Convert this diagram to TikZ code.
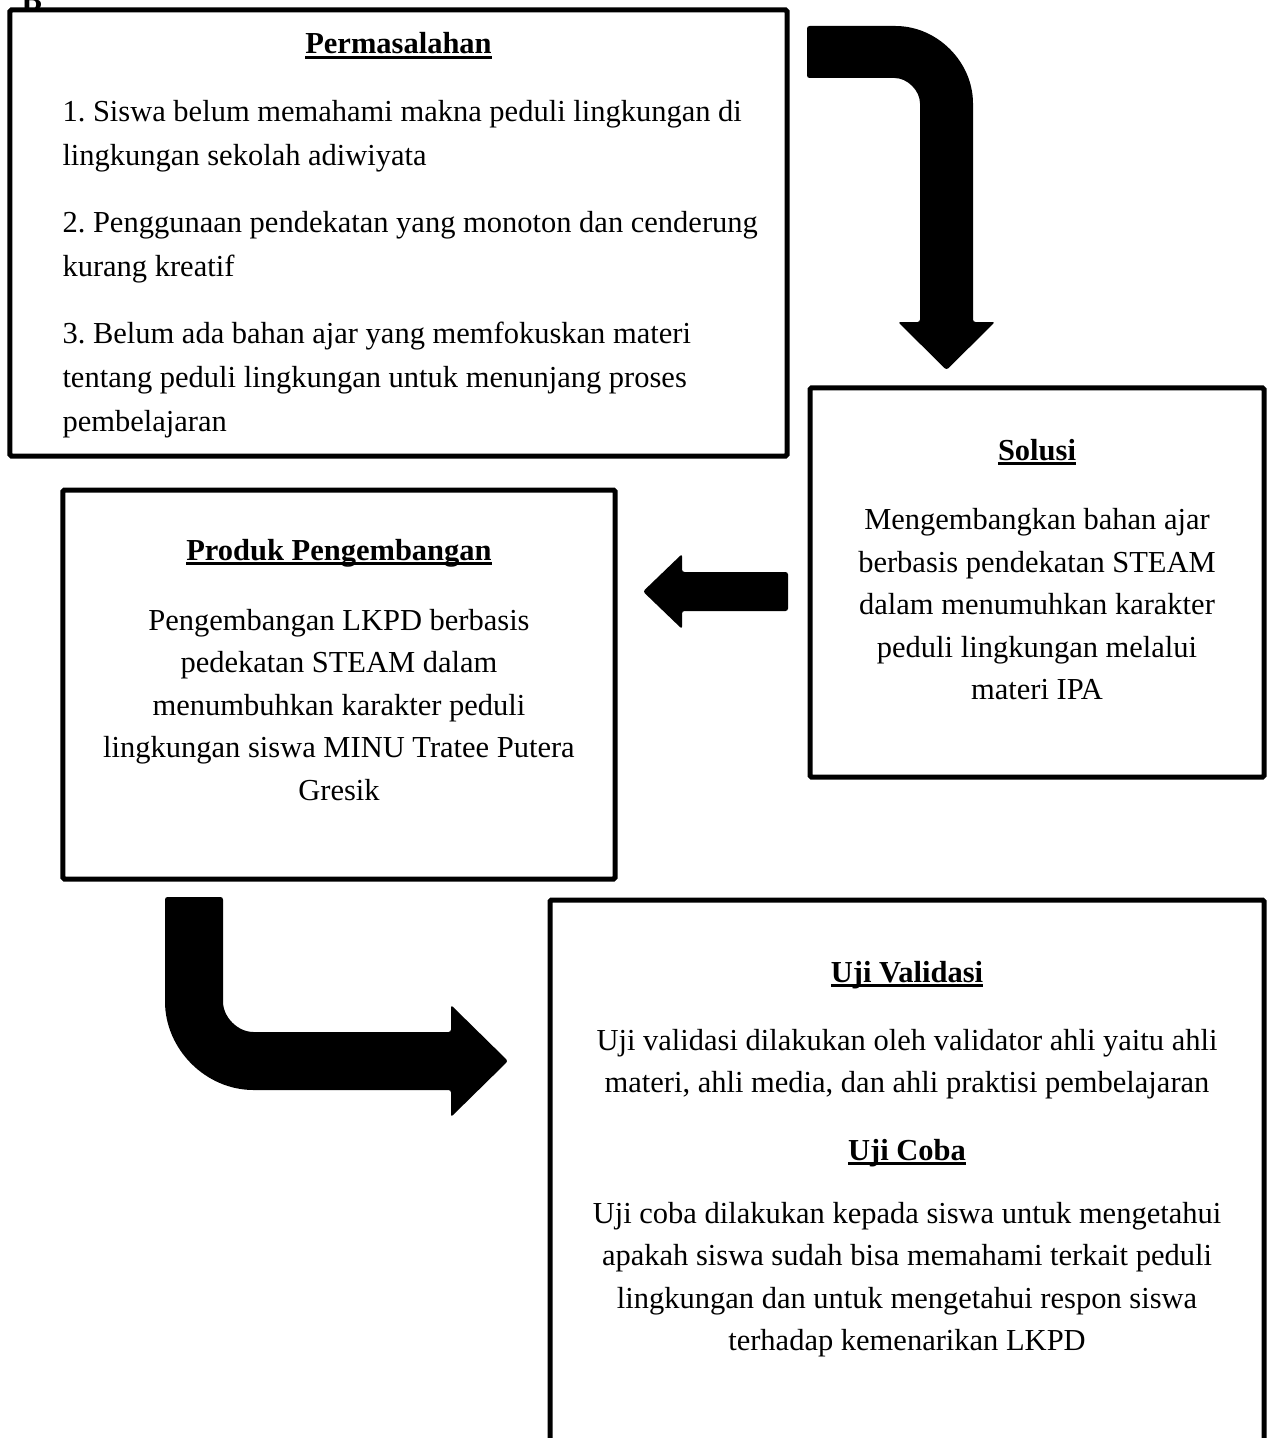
\documentclass[tikz,border=0pt]{standalone}
\usepackage{fontspec}
\setmainfont{Liberation Serif}
\usepackage{tikz}

% judul bergaris bawah
\newcommand{\judul}[1]{\sbox0{\bfseries #1}\rlap{\rule[-1.9pt]{\wd0}{1.2pt}}\usebox0}

\tikzset{
  kotak/.style={draw, line width=2pt, rounded corners=0.6pt, inner sep=0pt},
  judulteks/.style={font=\fontsize{12.2}{17}\selectfont, anchor=base, inner sep=0pt},
  isi/.style={font=\fontsize{12.2}{17}\selectfont, anchor=north, align=center, inner sep=0pt},
  panah/.style={fill=black, rounded corners=1pt}
}

\begin{document}
\begin{tikzpicture}[x=0.4pt, y=-0.4pt]
            \useasboundingbox (0,0) rectangle (1267,1438);

            % sisa judul di atas
            \node[judulteks, anchor=base west, font=\fontsize{12.2}{17}\selectfont\bfseries] (sisa) at (21,11) {B};

            % Kotak
            \node[kotak, minimum width=310.8pt, minimum height=178.4pt] (masalah) at (398.5,233) {};
            \node[kotak, minimum width=181.6pt, minimum height=155.6pt] (solusi) at (1037,582.5) {};
            \node[kotak, minimum width=220.8pt, minimum height=155.6pt] (produk) at (339,684.5) {};
            \node[kotak, minimum width=285.6pt, minimum height=224pt] (uji) at (907,1180) {};

            % Teks
            \node[judulteks] (masalah-judul) at (398.5,54) {\judul{Permasalahan}};
            \node[isi, anchor=north west, align=left, font=\fontsize{12.2}{17.6}\selectfont] (masalah-isi) at (62,89.7) {\strut 1.\ Siswa belum memahami makna peduli lingkungan di\\lingkungan sekolah adiwiyata\\[9.2pt]2.\ Penggunaan pendekatan yang monoton dan cenderung\\kurang kreatif\\[9.2pt]3.\ Belum ada bahan ajar yang memfokuskan materi\\tentang peduli lingkungan untuk menunjang proses\\pembelajaran};

            \node[judulteks] (solusi-judul) at (1037,460) {\judul{Solusi}};
            \node[isi] (solusi-isi) at (1037,499.5) {\strut Mengembangkan bahan ajar\\berbasis pendekatan STEAM\\dalam menumuhkan karakter\\peduli lingkungan melalui\\materi IPA};

            \node[judulteks] (produk-judul) at (339,560) {\judul{Produk Pengembangan}};
            \node[isi] (produk-isi) at (339,600) {\strut Pengembangan LKPD berbasis\\pedekatan STEAM dalam\\menumbuhkan karakter peduli\\lingkungan siswa MINU Tratee Putera\\Gresik};

            \node[judulteks] (validasi-judul) at (907,982) {\judul{Uji Validasi}};
            \node[isi] (validasi-isi) at (907,1020) {\strut Uji validasi dilakukan oleh validator ahli yaitu ahli\\materi, ahli media, dan ahli praktisi pembelajaran};

            \node[judulteks] (coba-judul) at (907,1160) {\judul{Uji Coba}};
            \node[isi] (coba-isi) at (907,1192.75) {\strut Uji coba dilakukan kepada siswa untuk mengetahui\\apakah siswa sudah bisa memahami terkait peduli\\lingkungan dan untuk mengetahui respon siswa\\terhadap kemenarikan LKPD};

            % Panah
            \fill[panah] (807,26) -- (893,26) arc[start angle=-90, end angle=0, radius=80] -- (973,322) -- (995,322) -- (946.5,370) -- (898,322) -- (920,322) -- (920,106) arc[start angle=0, end angle=-90, radius=28] -- (807,78) -- cycle;
            \fill[panah] (788,572) -- (682,572) -- (682,554) -- (643,591.5) -- (682,629) -- (682,611) -- (788,611) -- cycle;
            \fill[panah] (165,897) -- (223,897) -- (223,999) arc[start angle=180, end angle=90, radius=33] -- (451,1032) -- (451,1005) -- (508,1061) -- (451,1117) -- (451,1090) -- (256,1090) arc[start angle=90, end angle=180, radius=91] -- cycle;
        \end{tikzpicture}
\end{document}
